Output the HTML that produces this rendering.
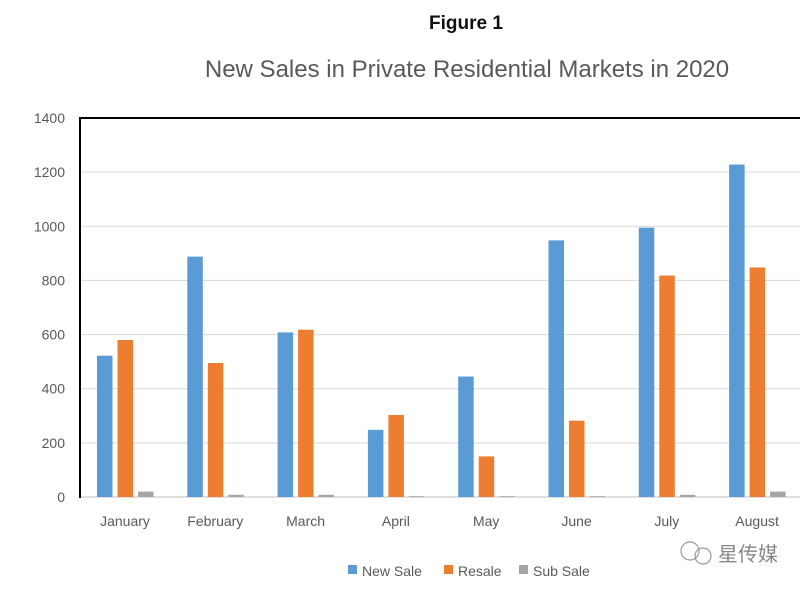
<!DOCTYPE html>
<html><head><meta charset="utf-8"><style>
body{margin:0;background:#fff;width:800px;height:587px;overflow:hidden;font-family:"Liberation Sans",sans-serif}
</style></head><body>
<svg width="800" height="587" xmlns="http://www.w3.org/2000/svg">
<text x="466" y="29" text-anchor="middle" font-size="19" font-weight="bold" fill="#111" font-family="Liberation Sans">Figure 1</text>
<text x="467" y="77" text-anchor="middle" font-size="24" fill="#595959" font-family="Liberation Sans">New Sales in Private Residential Markets in 2020</text>
<g id="grid"></g>
<g id="bars"></g>
<g id="labels"></g>
<line x1="80" y1="118" x2="800" y2="118" stroke="#000" stroke-width="2"/>
<line x1="80" y1="117" x2="80" y2="498" stroke="#000" stroke-width="2"/>
<g font-size="14" fill="#595959">
<rect x="348" y="565" width="9" height="9" fill="#5B9BD5"/>
<text x="362" y="576" fill="#595959">New Sale</text>
<rect x="444" y="565" width="9" height="9" fill="#ED7D31"/>
<text x="458" y="576" fill="#595959">Resale</text>
<rect x="519" y="565" width="9" height="9" fill="#A5A5A5"/>
<text x="533" y="576" fill="#595959">Sub Sale</text>
</g>
<g>
<circle cx="690" cy="551" r="9" fill="none" stroke="#999" stroke-width="1.2"/>
<circle cx="703" cy="556" r="8" fill="none" stroke="#999" stroke-width="1.2"/>
<text x="718" y="561" font-size="20" fill="#888" font-family="Liberation Sans, Noto Sans CJK SC, sans-serif">星传媒</text>
</g>
</svg>
<script>
const categories=["January","February","March","April","May","June","July","August"];
const newSale=[522,888,608,248,445,948,995,1228];
const resale=[580,495,618,303,150,282,818,848];
const subSale=[20,8,8,3,3,3,8,20];
const yTicks=[0,200,400,600,800,1000,1200,1400];
const NS="http://www.w3.org/2000/svg";
const y0=497,yTop=118,yMax=1400;
function y(v){return y0-(v/yMax)*(y0-yTop);}
function xc(i){return 97+i*90.3;}
const grid=document.getElementById('grid'),bars=document.getElementById('bars'),labels=document.getElementById('labels');
yTicks.forEach(t=>{
  const l=document.createElementNS(NS,'line');
  l.setAttribute('x1',80);l.setAttribute('x2',800);l.setAttribute('y1',y(t));l.setAttribute('y2',y(t));
  l.setAttribute('stroke',t===0?'#bfbfbf':'#d9d9d9');l.setAttribute('stroke-width',1);
  
  
  grid.appendChild(l);
  const tx=document.createElementNS(NS,'text');
  tx.setAttribute('x',65);tx.setAttribute('y',y(t)+5);tx.setAttribute('text-anchor','end');
  tx.setAttribute('font-size','14');tx.setAttribute('fill','#595959');tx.textContent=t;
  
  
  labels.appendChild(tx);
});
const series=[[newSale,'#5B9BD5',0],[resale,'#ED7D31',20.5],[subSale,'#A5A5A5',41]];
categories.forEach((c,i)=>{
  series.forEach(([arr,col,off])=>{
    const r=document.createElementNS(NS,'rect');
    r.setAttribute('x',xc(i)+off);r.setAttribute('width',15.5);
    r.setAttribute('y',y(arr[i]));r.setAttribute('height',y0-y(arr[i]));
    r.setAttribute('fill',col);
    
    
    bars.appendChild(r);
  });
  const tx=document.createElementNS(NS,'text');
  tx.setAttribute('x',xc(i)+28);tx.setAttribute('y',526);tx.setAttribute('text-anchor','middle');
  tx.setAttribute('font-size','14');tx.setAttribute('fill','#595959');tx.textContent=c;
  
  
  labels.appendChild(tx);
});
</script>
</body></html>
